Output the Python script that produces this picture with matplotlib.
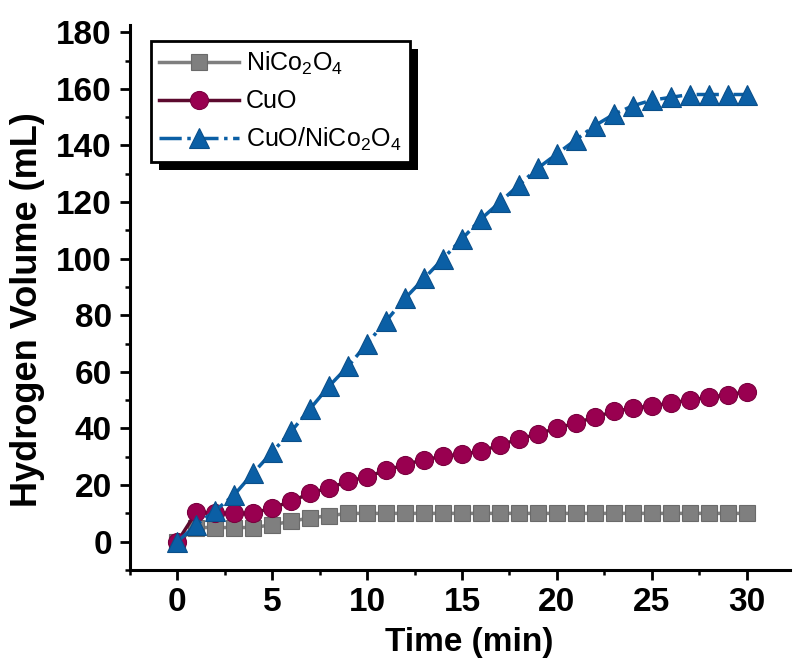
import numpy as np
import matplotlib
matplotlib.use("Agg")
import matplotlib.pyplot as plt
from matplotlib.patches import Rectangle

plt.rcParams['font.family'] = ['Liberation Sans', 'DejaVu Sans']
plt.rcParams['mathtext.default'] = 'regular'

# Data
time_min = list(range(31))
nico2o4 = [0, 5, 5, 5, 5, 6, 7.2, 8.4, 9.2, 10, 10, 10, 10, 10, 10, 10,
           10, 10, 10, 10, 10, 10, 10, 10, 10, 10, 10, 10, 10, 10, 10]
cuo = [0, 10.5, 10, 10, 10, 12, 14.2, 17.2, 19, 21.3, 23, 25.2, 27.2, 29,
       30.1, 31, 31.9, 34.2, 36.2, 38.1, 40.1, 41.9, 44, 46, 47.2, 48, 49,
       50.1, 51, 51.9, 53]
cuo_nico2o4 = [0, 6, 11, 16.6, 24.3, 31.7, 39, 47, 55, 62, 70, 78, 86, 93,
               100, 107, 114, 120, 126, 132, 137, 142, 147, 151, 154, 156,
               157, 158, 158, 158, 158]

fig = plt.figure(figsize=(7.95, 6.64), dpi=100)
ax = fig.add_axes([0.1635, 0.1416, 0.8305, 0.8205])

ax.plot(time_min, nico2o4, '-', color='#7f7f7f', lw=2.5, marker='s', ms=11,
        mec='#6a6a6a', mew=0.8, label='NiCo$_2$O$_4$', zorder=2)
ax.plot(time_min, cuo, '-', color='#5c0a2e', lw=2.5, marker='o', ms=13,
        mfc='#990050', mec='#7a003f', mew=0.8, label='CuO', zorder=3)
ax.plot(time_min, cuo_nico2o4, '-.', color='#0b5fa5', lw=2.5, marker='^', ms=14,
        mfc='#0b5fa5', mec='#0a4f8a', mew=0.8, label='CuO/NiCo$_2$O$_4$', zorder=4)

ax.set_xlim(-2.5, 32.3)
ax.set_ylim(-10, 182.5)
ax.set_xticks(np.arange(0, 31, 5))
ax.set_xticks(np.arange(-2.5, 32, 2.5), minor=True)
ax.set_yticks(np.arange(0, 181, 20))
ax.set_yticks(np.arange(-10, 181, 10), minor=True)

for s in ['top', 'right']:
    ax.spines[s].set_visible(False)
for s in ['left', 'bottom']:
    ax.spines[s].set_linewidth(2.2)

ax.tick_params(which='major', direction='out', length=7, width=2, labelsize=24)
ax.tick_params(axis='x', which='major', pad=5)
ax.tick_params(axis='y', which='major', pad=6)
ax.tick_params(which='minor', direction='out', length=3.5, width=1.8)
for lab in ax.get_xticklabels() + ax.get_yticklabels():
    lab.set_fontweight('bold')

ax.set_xlabel('Time (min)', fontsize=24, fontweight='bold')
ax.set_ylabel('Hydrogen Volume (mL)', fontsize=26, fontweight='bold')
ax.xaxis.set_label_coords(0.514, -0.104)
ax.yaxis.set_label_coords(-0.129, 0.477)

leg = ax.legend(loc='upper left', bbox_to_anchor=(0.02, 0.985), fontsize=18,
                frameon=True, fancybox=False, shadow=False,
                handlelength=3.2, handletextpad=0.25, borderpad=0.35,
                labelspacing=0.5, borderaxespad=0.3)
leg.get_frame().set_edgecolor('black')
leg.get_frame().set_linewidth(2)
leg.get_frame().set_alpha(1)
leg.set_zorder(10)

# offset black shadow behind the legend box
fig.canvas.draw()
bb = leg.get_window_extent().transformed(ax.transAxes.inverted())
dx = 8 / (0.8305 * 795)
dy = 8 / (0.8205 * 664)
ax.add_patch(Rectangle((bb.x0 + dx, bb.y0 - dy), bb.width, bb.height,
                       transform=ax.transAxes, facecolor='black',
                       edgecolor='none', zorder=9, clip_on=False))

fig.savefig('out.png', dpi=100)
